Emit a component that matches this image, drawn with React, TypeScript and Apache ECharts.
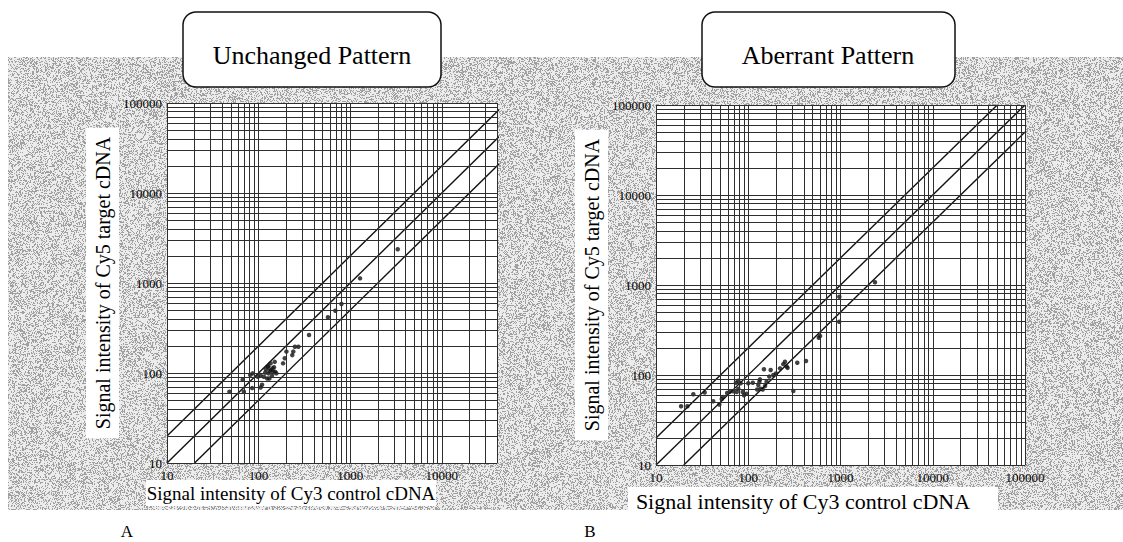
import React, { useEffect, useRef } from "react";
import * as echarts from "echarts";

// ---------- data ----------
const decades = [10, 100, 1000, 10000];
const steps = [1, 2, 3, 4, 5, 6, 7, 8, 9];
const gridValues = decades.flatMap((d) => steps.map((s) => d * s)).concat([100000]);
const axisMin = 10;
const unchangedXMax = 40000;
const fullMax = 100000;
const ratioLines = [2, 1, 0.5];

// Panel A: Unchanged pattern  [Cy3 control, Cy5 target]
const unchangedCy3 = [48, 67, 69, 81, 85, 86, 98, 105, 105, 109, 114, 118, 120, 124, 126, 128, 131, 135, 137, 140, 147, 150, 152, 156, 132, 142, 128, 145, 185, 193, 201, 233, 239, 249, 272, 355, 571, 688, 802, 1280, 3300];
const unchangedCy5 = [62, 84, 62, 95, 68, 99, 91, 69, 95, 74, 91, 101, 110, 87, 117, 99, 87, 128, 108, 93, 116, 133, 103, 99, 106, 112, 119, 102, 128, 146, 173, 158, 173, 196, 196, 264, 416, 492, 585, 1127, 2370];

// Panel B: Aberrant pattern  [Cy3 control, Cy5 target]
const aberrantCy3 = [18.7, 21.9, 25.4, 33.7, 41.7, 48.6, 51.6, 53.5, 59, 63, 68.6, 73.6, 78, 82.8, 78, 75, 87, 90, 96, 100, 112, 125, 128.5, 132, 134, 136, 143.5, 148, 152, 158, 169, 175, 187, 200, 221, 240, 250, 261, 267, 308, 340, 423, 582, 600, 968, 971, 2366];
const aberrantCy5 = [45, 45, 61, 64, 51, 47, 54, 57, 63, 65, 66, 82, 86.5, 81, 70.5, 64.7, 64.7, 59.4, 62, 81, 82, 69, 77.4, 84, 89.5, 70.5, 69, 116, 75.5, 84, 96, 113.6, 100, 104, 118.5, 132, 140.6, 124, 120, 66.4, 137, 143, 259, 271, 391, 741, 1072];

const panelTitles = ["Unchanged Pattern", "Aberrant Pattern"];
const yTitle = "Signal intensity of Cy5 target cDNA";
const xTitle = "Signal intensity of Cy3 control cDNA";
const panelLetters = ["A", "B"];

const FONT = '"Liberation Serif", "DejaVu Serif", serif';
const INK = "#111";
const GRIDINK = "#2e2e2e";

function pairs(xs: number[], ys: number[]) {
  return xs.map((x, i) => [x, ys[i]]);
}

function ratioSegment(r: number) {
  const x0 = Math.max(axisMin, axisMin / r);
  const x1 = Math.min(fullMax, fullMax / r);
  return [
    [x0, r * x0],
    [x1, r * x1],
  ];
}

// deterministic halftone-like texture for the scanned grey background
function makeTexture(w: number, h: number): string | null {
  try {
    const c = document.createElement("canvas");
    c.width = w;
    c.height = h;
    const ctx = c.getContext("2d");
    if (!ctx) return null;
    const img = ctx.createImageData(w, h);
    for (let y = 0; y < h; y++) {
      for (let x = 0; x < w; x++) {
        let k = (Math.imul(x, 374761393) + Math.imul(y, 668265263)) | 0;
        k = Math.imul(k ^ (k >>> 13), 1274126177);
        k ^= k >>> 16;
        const v = (k & 0xffff) / 65536;
        const g = v < 0.35 ? 160 : 236;
        const i = (y * w + x) * 4;
        img.data[i] = g;
        img.data[i + 1] = g;
        img.data[i + 2] = g;
        img.data[i + 3] = 255;
      }
    }
    ctx.putImageData(img, 0, 0);
    return c.toDataURL("image/png");
  } catch (e) {
    return null;
  }
}

function buildOption(texture: string | null) {
  const panels = [
    { xMax: unchangedXMax, pts: pairs(unchangedCy3, unchangedCy5) },
    { xMax: fullMax, pts: pairs(aberrantCy3, aberrantCy5) },
  ];
  const grids = [
    { left: 167, top: 103, width: 330, height: 360 },
    { left: 656, top: 105, width: 369, height: 360 },
  ];

  const xAxes: any[] = [];
  const yAxes: any[] = [];
  const series: any[] = [];

  panels.forEach((p, i) => {
    xAxes.push({
      type: "log",
      logBase: 10,
      gridIndex: i,
      min: axisMin,
      max: p.xMax,
      axisLine: { show: false },
      axisTick: { show: false },
      splitLine: { show: false },
      axisLabel: {
        fontSize: 13,
        color: "#000",
        fontFamily: FONT,
        margin: 6,
        showMaxLabel: i === 1,
        formatter: (v: number) => String(Math.round(v)),
      },
    });
    yAxes.push({
      type: "log",
      logBase: 10,
      gridIndex: i,
      min: axisMin,
      max: fullMax,
      axisLine: { show: false },
      axisTick: { show: false },
      splitLine: { show: false },
      name: yTitle,
      nameLocation: "middle",
      nameRotate: 90,
      nameGap: 48,
      nameTextStyle: {
        fontSize: 20,
        color: "#000",
        fontFamily: FONT,
        backgroundColor: "#fff",
        padding: [7, 9, 6, 9],
      },
      axisLabel: {
        fontSize: 13,
        color: "#000",
        fontFamily: FONT,
        margin: 5,
        formatter: (v: number) => String(Math.round(v)),
      },
    });

    const vLines = gridValues.filter((v) => v <= p.xMax).map((v) => ({ xAxis: v }));
    const hLines = gridValues.filter((v) => v <= fullMax).map((v) => ({ yAxis: v }));
    series.push({
      type: "line",
      xAxisIndex: i,
      yAxisIndex: i,
      data: [],
      z: 1,
      silent: true,
      markLine: {
        silent: true,
        symbol: ["none", "none"],
        label: { show: false },
        lineStyle: { type: "solid", color: GRIDINK, width: 1 },
        emphasis: { disabled: true },
        data: [...vLines, ...hLines],
      },
    });

    ratioLines.forEach((r) => {
      series.push({
        type: "line",
        xAxisIndex: i,
        yAxisIndex: i,
        data: ratioSegment(r),
        showSymbol: false,
        clip: true,
        silent: true,
        z: 3,
        lineStyle: { color: INK, width: 1.4 },
      });
    });

    series.push({
      type: "scatter",
      xAxisIndex: i,
      yAxisIndex: i,
      data: p.pts,
      symbolSize: 4.5,
      z: 4,
      silent: true,
      itemStyle: { color: INK },
    });
  });

  const bg = { x: 8, y: 57, width: 1115, height: 453 };
  const graphic: any[] = [
    texture
      ? {
          type: "image",
          z: -10,
          silent: true,
          x: bg.x,
          y: bg.y,
          style: { image: texture, width: bg.width, height: bg.height },
        }
      : {
          type: "rect",
          z: -10,
          silent: true,
          shape: bg,
          style: { fill: "#cfcfcf" },
        },
    // title boxes
    {
      type: "rect",
      z: 10,
      shape: { x: 183, y: 12, width: 258, height: 75, r: 13 },
      style: { fill: "#fff", stroke: "#111", lineWidth: 1.5 },
    },
    {
      type: "text",
      z: 11,
      x: 312,
      y: 55,
      style: { text: panelTitles[0], fontSize: 26, fontFamily: FONT, fill: "#000", align: "center", verticalAlign: "middle" },
    },
    {
      type: "rect",
      z: 10,
      shape: { x: 702, y: 12, width: 253, height: 75, r: 13 },
      style: { fill: "#fff", stroke: "#111", lineWidth: 1.5 },
    },
    {
      type: "text",
      z: 11,
      x: 828,
      y: 55,
      style: { text: panelTitles[1], fontSize: 26, fontFamily: FONT, fill: "#000", align: "center", verticalAlign: "middle" },
    },
    // x titles
    {
      type: "rect",
      z: 5,
      shape: { x: 146, y: 480, width: 290, height: 26 },
      style: { fill: "#fff" },
    },
    {
      type: "text",
      z: 6,
      x: 291,
      y: 493,
      style: { text: xTitle, fontSize: 19, fontFamily: FONT, fill: "#000", align: "center", verticalAlign: "middle" },
    },
    {
      type: "rect",
      z: 5,
      shape: { x: 628, y: 487, width: 370, height: 23 },
      style: { fill: "#fff" },
    },
    {
      type: "text",
      z: 6,
      x: 803,
      y: 501,
      style: { text: xTitle, fontSize: 22, fontFamily: FONT, fill: "#000", align: "center", verticalAlign: "middle" },
    },
    {
      type: "text",
      z: 6,
      x: 127,
      y: 531,
      style: { text: panelLetters[0], fontSize: 17, fontFamily: FONT, fill: "#000", align: "center", verticalAlign: "middle" },
    },
    {
      type: "text",
      z: 6,
      x: 590,
      y: 531,
      style: { text: panelLetters[1], fontSize: 17, fontFamily: FONT, fill: "#000", align: "center", verticalAlign: "middle" },
    },
  ];

  return {
    animation: false,
    backgroundColor: "#fff",
    grid: grids.map((g) => ({ ...g, show: true, backgroundColor: "#fff", borderWidth: 0, containLabel: false })),
    xAxis: xAxes,
    yAxis: yAxes,
    series,
    graphic,
  };
}

export default function App() {
  const ref = useRef<HTMLDivElement>(null);
  useEffect(() => {
    if (!ref.current) return;
    const chart = echarts.init(ref.current, undefined, { renderer: "svg" });
    const texture = makeTexture(1115, 453);
    chart.setOption(buildOption(texture) as any);
    return () => chart.dispose();
  }, []);
  return (
    <div
      ref={ref}
      style={{ position: "absolute", left: 0, top: 0, width: 1123, height: 542, background: "#fff" }}
    />
  );
}
